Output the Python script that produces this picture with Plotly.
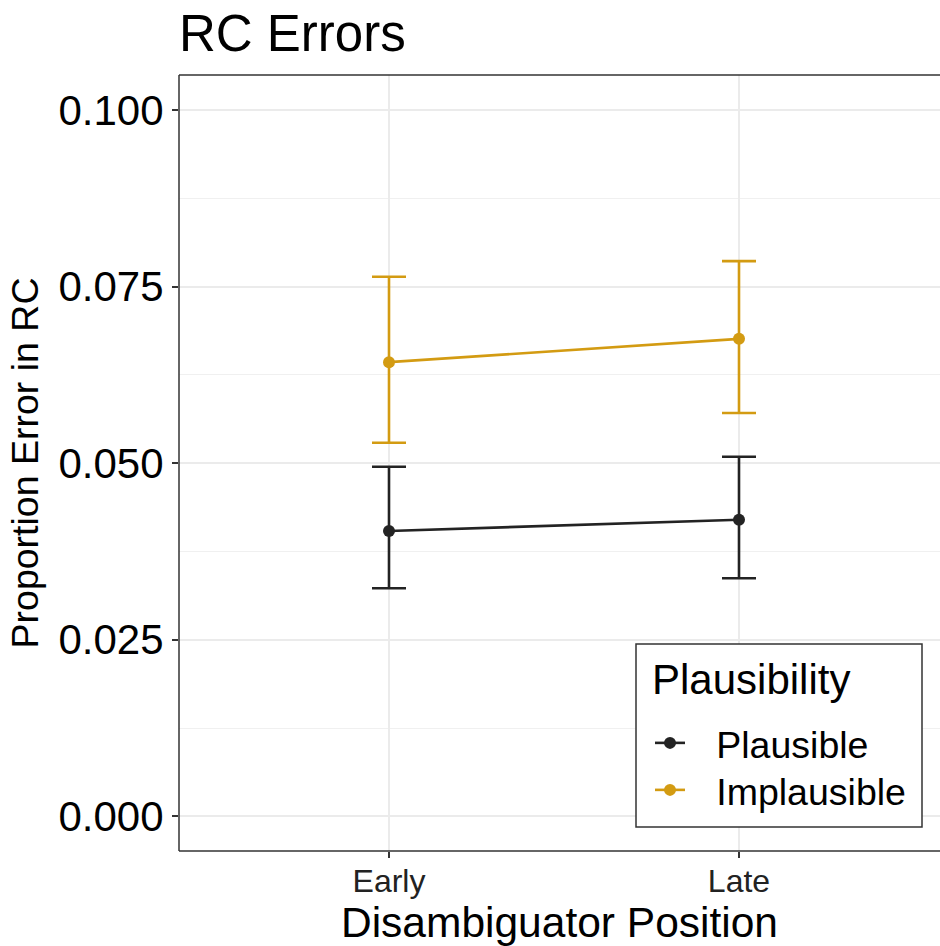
import plotly.graph_objects as go

# Disambiguator position (x categories)
positions = ["Early", "Late"]

# Proportion of errors in RC: means with lower/upper interval bounds
plausible_mean = [0.0404, 0.0420]
plausible_low = [0.0323, 0.0337]
plausible_high = [0.0495, 0.0509]

implausible_mean = [0.0643, 0.0676]
implausible_low = [0.0529, 0.0571]
implausible_high = [0.0764, 0.0786]

y_ticks = [0.000, 0.025, 0.050, 0.075, 0.100]

FONT = "Liberation Sans, Arial, Helvetica, sans-serif"
DARK = "#232323"
GOLD = "#D39B12"

# Panel geometry in pixels
W, H = 940, 946
L, R, T, B = 179, 0, 75, 95
PW, PH = W - L - R, H - T - B


def px_x(x):
    return (x - L) / PW


def px_y(y):
    return (H - B - y) / PH


def series(name, mean, low, high, color, legend):
    return go.Scatter(
        x=positions,
        y=mean,
        name="\u2002\u2009" + name,
        legend=legend,
        mode="lines+markers",
        line=dict(color=color, width=2.6),
        marker=dict(color=color, size=12),
        error_y=dict(
            type="data",
            symmetric=False,
            array=[h - m for h, m in zip(high, mean)],
            arrayminus=[m - l for m, l in zip(mean, low)],
            color=color,
            thickness=2.6,
            width=17,
        ),
    )


fig = go.Figure()
fig.add_trace(series("Plausible", plausible_mean, plausible_low, plausible_high, DARK, "legend"))
fig.add_trace(series("Implausible", implausible_mean, implausible_low, implausible_high, GOLD, "legend2"))

legend_common = dict(
    font=dict(size=37.5),
    xanchor="left",
    yanchor="middle",
    bgcolor="rgba(0,0,0,0)",
    borderwidth=0,
)

fig.update_layout(
    width=W,
    height=H,
    margin=dict(l=L, r=R, t=T, b=B),
    paper_bgcolor="white",
    plot_bgcolor="white",
    font=dict(family=FONT, color="black"),
    title=dict(
        text="RC Errors",
        font=dict(size=51, color="black"),
        x=L / W,
        xanchor="left",
        y=1 - 51 / H,
        yanchor="bottom",
        pad=dict(l=0, b=0),
    ),
    legend=dict(x=px_x(650), y=px_y(743), **legend_common),
    legend2=dict(x=px_x(650), y=px_y(790), **legend_common),
    showlegend=True,
)

fig.update_xaxes(
    range=[-0.6, -0.6 + PW / 350],
    showgrid=True,
    gridcolor="#EBEBEB",
    gridwidth=2,
    ticks="outside",
    ticklen=6,
    tickwidth=2,
    tickcolor="#333333",
    tickfont=dict(size=32, color="#222222"),
    ticklabelstandoff=-4,
    title=dict(text="Disambiguator Position", font=dict(size=42.5), standoff=4),
    showline=False,
    zeroline=False,
)

fig.update_yaxes(
    range=[-0.0049, 0.10495],
    tickvals=y_ticks,
    tickformat=".3f",
    showgrid=True,
    gridcolor="#EBEBEB",
    gridwidth=2,
    minor=dict(dtick=0.0125, tick0=0.0125, showgrid=True, gridcolor="#F0F0F0", gridwidth=1),
    ticks="outside",
    ticklen=6,
    tickwidth=2,
    tickcolor="#333333",
    tickfont=dict(size=42, color="black"),
    title=dict(text="Proportion Error in RC", font=dict(size=37.5), standoff=8),
    showline=False,
    zeroline=False,
)

# Panel frame: left, top and bottom edges
for x0, y0, x1, y1 in [(0, 0, 0, 1), (0, 1, 1, 1), (0, 0, 1, 0)]:
    fig.add_shape(
        type="line", xref="paper", yref="paper",
        x0=x0, y0=y0, x1=x1, y1=y1,
        line=dict(color="#333333", width=1.5),
        layer="above",
    )

# Legend box and title
fig.add_shape(
    type="rect", xref="paper", yref="paper",
    x0=px_x(636), x1=px_x(922), y0=px_y(827), y1=px_y(644),
    fillcolor="white",
    line=dict(color="#333333", width=1.5),
    layer="above",
)
fig.add_annotation(
    text="Plausibility",
    xref="paper", yref="paper",
    x=px_x(650), y=px_y(705),
    xanchor="left", yanchor="bottom",
    showarrow=False,
    font=dict(size=42, color="black"),
)

fig.write_html("out.html")
